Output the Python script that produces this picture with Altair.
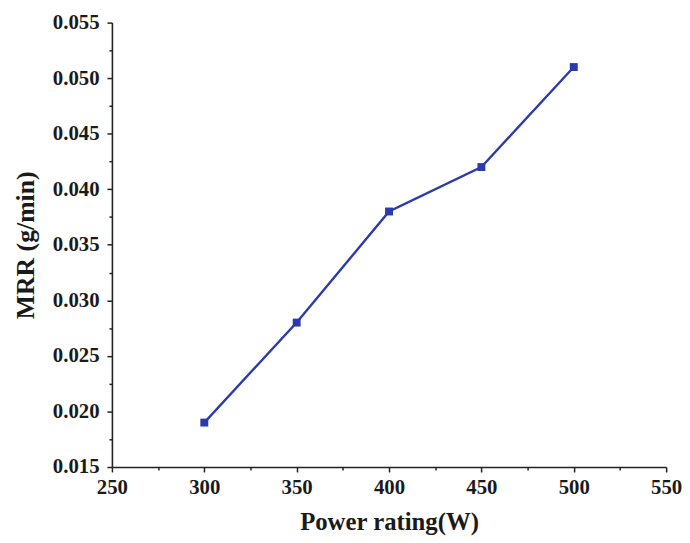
import altair as alt
import pandas as pd

power = [300, 350, 400, 450, 500]
mrr = [0.019, 0.028, 0.038, 0.042, 0.051]

x_ticks = [250 + 25 * i for i in range(13)]
y_ticks = [round(0.015 + 0.0025 * i, 4) for i in range(17)]

df = pd.DataFrame({"power": power, "mrr": mrr})

FONT = "Liberation Serif"
COLOR = "#2b3bab"
INK = "#1a1a1a"

x_axis = alt.Axis(
    values=x_ticks,
    title="Power rating(W)",
    grid=False,
    domainColor="#222222",
    domainWidth=1.6,
    tickColor="#222222",
    tickWidth=1.5,
    tickSize={"condition": {"test": "datum.value % 50 === 0", "value": 5}, "value": 3},
    labelExpr="datum.value % 50 === 0 ? datum.label : ''",
    labelFont=FONT,
    labelFontSize=21,
    labelFontWeight="bold",
    labelColor=INK,
    labelPadding=5,
    labelFlush=False,
    labelOverlap=False,
    titleFont=FONT,
    titleFontSize=25,
    titleFontWeight="bold",
    titleColor=INK,
    titlePadding=12,
)

y_axis = alt.Axis(
    values=y_ticks,
    title="MRR (g/min)",
    format=".3f",
    grid=False,
    domainColor="#222222",
    domainWidth=1.6,
    tickColor="#222222",
    tickWidth=1.5,
    tickSize={"condition": {"test": "round(datum.value * 10000) % 50 === 0", "value": 5}, "value": 3},
    labelExpr="round(datum.value * 10000) % 50 === 0 ? datum.label : ''",
    labelFont=FONT,
    labelFontSize=21,
    labelFontWeight="bold",
    labelColor=INK,
    labelPadding=8,
    labelFlush=False,
    labelOverlap=False,
    titleFont=FONT,
    titleFontSize=26,
    titleFontWeight="bold",
    titleColor=INK,
    titlePadding=14,
)

base = alt.Chart(df).encode(
    x=alt.X("power:Q", scale=alt.Scale(domain=[250, 550], nice=False, zero=False), axis=x_axis),
    y=alt.Y("mrr:Q", scale=alt.Scale(domain=[0.015, 0.055], nice=False, zero=False), axis=y_axis),
)

line = base.mark_line(color=COLOR, strokeWidth=2.4)
points = base.mark_point(shape="square", filled=True, size=64, color=COLOR, opacity=1)

chart = (
    (line + points)
    .properties(
        width=560,
        height=449,
        autosize=alt.AutoSizeParams(type="none"),
        padding={"left": 105, "top": 12, "right": 16, "bottom": 74},
        background="white",
    )
    .configure_view(stroke=None)
)

chart.save("out.html", embed_options={"renderer": "svg", "actions": False})
